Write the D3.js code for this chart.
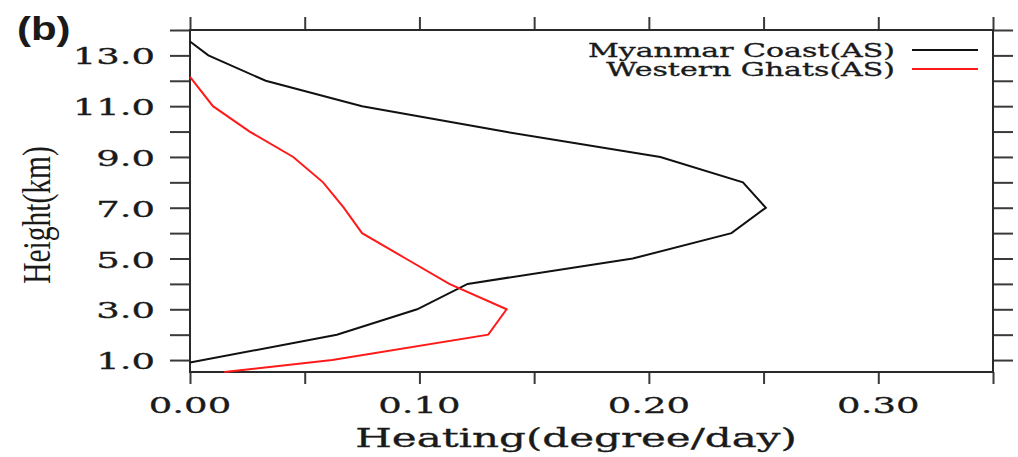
<!DOCTYPE html>
<html lang="en">
<head>
<meta charset="utf-8">
<title>Heating profile (b)</title>
<script src="https://d3js.org/d3.v7.min.js"></script>
<style>
  body { margin: 0; background: #fff; }
  svg { display: block; }
  .lbl { font-family: "DejaVu Serif", serif; fill: #1a1a1a; stroke: #1a1a1a; stroke-width: 0.5px; }
</style>
</head>
<body>
<div id="chart"></div>
<script>
// data
var seriesNames = ["Myanmar Coast(AS)", "Western Ghats(AS)"];
var seriesColors = ["#111111", "#ff1a1a"];

var heightsMC = [13.55, 13, 12, 11, 10, 9, 8, 7, 6, 5, 4, 3, 2, 0.9];
var heatingMC = [0, 0.008, 0.033, 0.075, 0.137, 0.205, 0.241, 0.251, 0.236, 0.193, 0.121, 0.099, 0.064, 0];

var heightsWG = [12.15, 11, 10, 9, 8, 7, 6, 5, 4, 3, 2, 1, 0.53];
var heatingWG = [0, 0.010, 0.026, 0.045, 0.058, 0.067, 0.075, 0.094, 0.113, 0.138, 0.130, 0.062, 0.015];

var xTicks = [0, 0.05, 0.10, 0.15, 0.20, 0.25, 0.30, 0.35];
var xTickLabels = ["0.00", "0.10", "0.20", "0.30"];
var yTicks = [1, 2, 3, 4, 5, 6, 7, 8, 9, 10, 11, 12, 13, 14];
var yTickLabels = ["1.0", "3.0", "5.0", "7.0", "9.0", "11.0", "13.0"];

var W = 1018, H = 457;
var pLeft = 190, pRight = 993, pTop = 30, pBottom = 372;
var squash = 0.62;   // the original figure was flattened vertically

var x = d3.scaleLinear().domain([0, 0.35]).range([pLeft, pRight]);
var y = d3.scaleLinear().domain([0.53, 14]).range([pBottom, pTop]);

var svg = d3.select("#chart").append("svg")
    .attr("width", W)
    .attr("height", H);

// squashed text helper
function sqText(px, py, str, size, anchor, sy, family, weight) {
    var g = svg.append("g")
        .attr("transform", "translate(" + px + "," + py + ") scale(1," + sy + ")");
    var t = g.append("text")
        .attr("class", "lbl")
        .attr("text-anchor", anchor)
        .style("font-size", size + "px")
        .style("font-weight", weight || "normal")
        .text(str);
    if (family) t.style("font-family", family).style("stroke", "none");
    return g;
}

// axes, ticks outward on all four sides
function styleAxis(g) {
    g.select(".domain").remove();
    g.selectAll(".tick line").attr("stroke", "#3a3a3a").attr("stroke-width", 2);
    g.selectAll(".tick text").remove();
}

svg.append("g")
    .attr("transform", "translate(0," + pBottom + ")")
    .call(d3.axisBottom(x).tickValues(xTicks).tickSize(12).tickSizeOuter(0))
    .call(styleAxis);
svg.append("g")
    .attr("transform", "translate(0," + pTop + ")")
    .call(d3.axisTop(x).tickValues(xTicks).tickSize(13).tickSizeOuter(0))
    .call(styleAxis);
svg.append("g")
    .attr("transform", "translate(" + pLeft + ",0)")
    .call(d3.axisLeft(y).tickValues(yTicks).tickSize(20).tickSizeOuter(0))
    .call(styleAxis);
svg.append("g")
    .attr("transform", "translate(" + pRight + ",0)")
    .call(d3.axisRight(y).tickValues(yTicks).tickSize(20).tickSizeOuter(0))
    .call(styleAxis);

// frame
svg.append("rect")
    .attr("x", pLeft).attr("y", pTop)
    .attr("width", pRight - pLeft).attr("height", pBottom - pTop)
    .attr("fill", "none")
    .attr("stroke", "#2a2a2a")
    .attr("stroke-width", 2);

// tick labels
xTickLabels.forEach(function(t) {
    sqText(x(+t), 413, t, 37, "middle", squash);
});
yTickLabels.forEach(function(t) {
    sqText(155, y(+t) + 9, t, 37, "end", squash);
});

// axis titles
sqText(576, 447, "Heating(degree/day)", 42, "middle", 0.64);

svg.append("g")
    .attr("transform", "translate(50,215) scale(1,0.72) rotate(-90)")
    .append("text")
    .attr("text-anchor", "middle")
    .style("font-family", "'Liberation Serif', serif")
    .style("font-size", "41px")
    .style("fill", "#1a1a1a")
    .text("Height(km)");

// panel label
sqText(17, 40, "(b)", 42, "start", 0.8, "'Liberation Sans', Arial, sans-serif", "bold");

// profiles
var line = d3.line()
    .x(function(d) { return x(d[0]); })
    .y(function(d) { return y(d[1]); });

var profiles = [d3.zip(heatingMC, heightsMC), d3.zip(heatingWG, heightsWG)];

svg.selectAll(".profile")
    .data(profiles)
    .enter()
    .append("path")
    .attr("class", "profile")
    .attr("d", line)
    .attr("fill", "none")
    .attr("stroke", function(d, i) { return seriesColors[i]; })
    .attr("stroke-width", 2)
    .attr("stroke-linejoin", "miter");

// legend
var legY = [50, 69];
seriesNames.forEach(function(name, i) {
    sqText(895, legY[i] + 7, name, 30, "end", 0.64);
    svg.append("line")
        .attr("x1", 912).attr("x2", 978)
        .attr("y1", legY[i]).attr("y2", legY[i])
        .attr("stroke", seriesColors[i])
        .attr("stroke-width", 2);
});
</script>
</body>
</html>
